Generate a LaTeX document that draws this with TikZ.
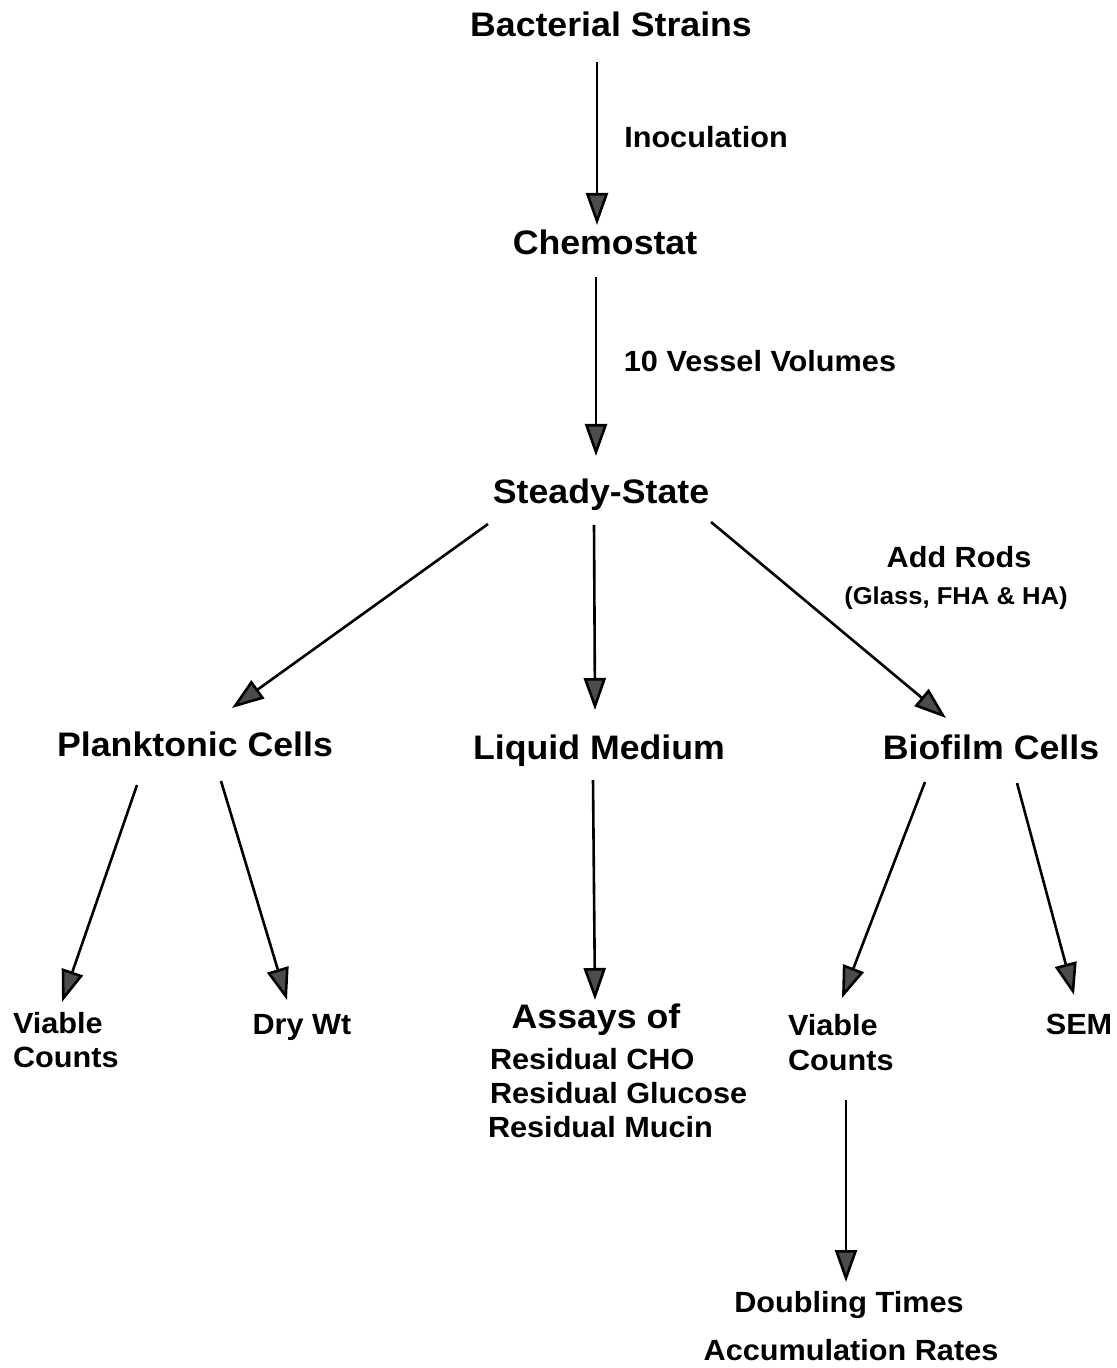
\documentclass[tikz,border=0pt]{standalone}
\usepackage{fontspec}
\setmainfont{Liberation Sans}[FakeStretch=1.05]
\usetikzlibrary{arrows.meta,calc}
\begin{document}
\begin{tikzpicture}[x=0.5pt,y=-0.5pt,
  every node/.style={inner sep=0pt,outer sep=0pt},
  big/.style={font=\fontsize{17.0}{20}\selectfont\bfseries, anchor=base},
  lab/.style={font=\fontsize{14.6}{17}\selectfont\bfseries, anchor=base},
  labw/.style={font=\fontsize{14.6}{17}\selectfont\bfseries, anchor=base west},
  small/.style={font=\fontsize{12.2}{14}\selectfont\bfseries, anchor=base},
  arr/.style={line width=1.3pt, -{Triangle[length=16pt,width=11pt,fill=black!70]}}]
\useasboundingbox (0,0) rectangle (1116,1368);
% nodes
\node[big] (bs) at (611,37) {Bacterial Strains};
\node[lab] (inoc) at (706,148) {Inoculation};
\node[big] (chem) at (605,255) {Chemostat};
\node[lab] (vv) at (760,372) {10 Vessel Volumes};
\node[big] (ss) at (601,503) {Steady-State};
\node[lab] (rods) at (959,567) {Add Rods};
\node[small] (glass) at (956,604) {(Glass, FHA \& HA)};
\node[big] (pc) at (195,756) {Planktonic Cells};
\node[big] (lm) at (599,759) {Liquid Medium};
\node[big] (bc) at (991,759) {Biofilm Cells};
\node[labw] (vl1) at (13,1033) {Viable};
\node[labw] (vl2) at (13,1067) {Counts};
\node[lab] (dry) at (302,1034) {Dry Wt};
\node[big] (assay) at (596,1028) {Assays of};
\node[labw] (r1) at (490,1069) {Residual CHO};
\node[labw] (r2) at (490,1103) {Residual Glucose};
\node[labw] (r3) at (488,1137) {Residual Mucin};
\node[labw] (vr1) at (788,1035) {Viable};
\node[labw] (vr2) at (788,1070) {Counts};
\node[lab] (sem) at (1079,1034) {SEM};
\node[lab] (dbl) at (849,1312) {Doubling Times};
\node[lab] (acc) at (851,1360) {Accumulation Rates};
% connectors
\draw[arr] ($(bs.base)+(-14,25)$) -- ($(chem.base)+(-8,-30)$);
\draw[arr] ($(chem.base)+(-9,22)$) -- ($(ss.base)+(-5,-47)$);
\draw[arr] ($(ss.base)+(-113,21)$) -- ($(pc.base)+(37,-48)$);
\draw[arr] ($(ss.base)+(-7,22)$) -- ($(lm.base)+(-4,-49)$);
\draw[arr] ($(ss.base)+(110,19)$) -- ($(bc.base)+(-45,-41)$);
\draw[arr] ($(pc.base)+(-58,29)$) -- ($(vl1.base west)+(49,-31)$);
\draw[arr] ($(pc.base)+(26,25)$) -- ($(dry.base)+(-15,-34)$);
\draw[arr] ($(lm.base)+(-6,21)$) -- ($(assay.base)+(-1,-28)$);
\draw[arr] ($(bc.base)+(-66,23)$) -- ($(vr1.base west)+(54,-37)$);
\draw[arr] ($(bc.base)+(26,24)$) -- ($(sem.base)+(-5,-39)$);
\draw[arr] ($(vr2.base west)+(58,30)$) -- ($(dbl.base)+(-3,-30)$);
\end{tikzpicture}
\end{document}
